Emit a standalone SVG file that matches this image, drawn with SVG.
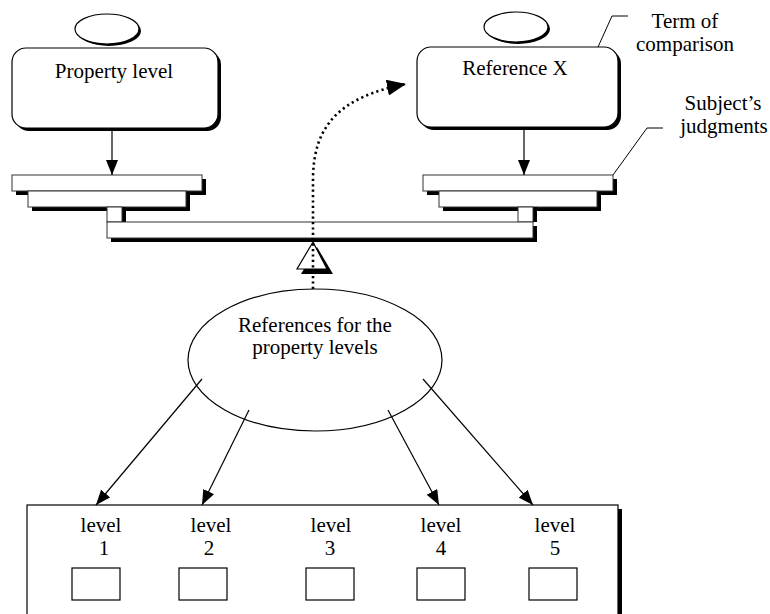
<svg xmlns="http://www.w3.org/2000/svg" width="770" height="614" viewBox="0 0 770 614">
  <style>
    .txt { font-family: "Liberation Serif", "Times New Roman", serif; font-size: 21px; fill: #000; text-anchor: middle; }
    .box { fill: #fff; stroke: #000; stroke-width: 1.2; }
    .shadow { fill: #000; stroke: none; }
    .plate { fill: #fff; stroke: #333; stroke-width: 1; }
    .edge { fill: none; stroke: #000; stroke-width: 1.2; }
    .dots { fill: none; stroke: #000; stroke-width: 2.6; stroke-dasharray: 2.2 3.2; }
    .call { fill: none; stroke: #000; stroke-width: 1; }
  </style>
  <defs>
    <marker id="arrow" markerUnits="userSpaceOnUse" markerWidth="16" markerHeight="12" refX="15" refY="6" orient="auto">
      <path d="M0,0 L15,6 L0,12 z" fill="#000"/>
    </marker>
    <marker id="arrowBig" markerUnits="userSpaceOnUse" markerWidth="20" markerHeight="16" refX="19" refY="8" orient="auto">
      <path d="M0,0 L19,8 L0,16 z" fill="#000"/>
    </marker>
  </defs>

  <rect width="770" height="614" fill="#fff"/>

  <!-- Property level box -->
  <g id="property-level">
    <rect class="shadow" x="15" y="51" width="206" height="80" rx="14"/>
    <rect class="box" x="12" y="48" width="206" height="80" rx="14"/>
    <ellipse class="shadow" cx="109" cy="31" rx="32" ry="15"/>
    <ellipse class="box" cx="107" cy="29" rx="32" ry="15"/>
    <text class="txt" x="114" y="78">Property level</text>
  </g>

  <!-- Reference X box -->
  <g id="reference-x">
    <rect class="shadow" x="420" y="50" width="201" height="80" rx="14"/>
    <rect class="box" x="417" y="47" width="201" height="80" rx="14"/>
    <ellipse class="shadow" cx="518" cy="29" rx="32" ry="15"/>
    <ellipse class="box" cx="516" cy="27" rx="32" ry="15"/>
    <text class="txt" x="515" y="75">Reference X</text>
  </g>

  <!-- Balance scale: pans, posts, beam and fulcrum -->
  <g id="scale">
    <!-- left pan -->
    <rect class="shadow" x="16" y="179" width="190" height="16"/>
    <rect class="plate" x="12" y="175" width="190" height="16"/>
    <rect class="shadow" x="32" y="195" width="158" height="16"/>
    <rect class="plate" x="28" y="191" width="158" height="16"/>
    <!-- right pan -->
    <rect class="shadow" x="427" y="179" width="190" height="16"/>
    <rect class="plate" x="423" y="175" width="190" height="16"/>
    <rect class="shadow" x="443" y="195" width="158" height="16"/>
    <rect class="plate" x="439" y="191" width="158" height="16"/>
    <!-- posts -->
    <rect class="shadow" x="111" y="207" width="15" height="15"/>
    <rect class="plate" x="107" y="207" width="15" height="15"/>
    <rect class="shadow" x="522" y="207" width="15" height="15"/>
    <rect class="plate" x="518" y="207" width="15" height="15"/>
    <!-- beam -->
    <rect class="shadow" x="111" y="226" width="426" height="16"/>
    <rect class="plate" x="107" y="222" width="426" height="16"/>
    <!-- fulcrum -->
    <polygon class="shadow" points="317,247 301,274 333,274"/>
    <polygon class="box" points="313,242 297,269 327,269"/>
  </g>

  <!-- Callout labels -->
  <g id="term-of-comparison">
    <polyline class="call" points="598,47 612,16 628,16"/>
    <text class="txt" x="685" y="28">Term of</text>
    <text class="txt" x="685" y="51">comparison</text>
  </g>
  <g id="subjects-judgments">
    <polyline class="call" points="613,175 647,128 663,128"/>
    <text class="txt" x="723" y="110">Subject’s</text>
    <text class="txt" x="724" y="133">judgments</text>
  </g>

  <!-- References ellipse -->
  <g id="references">
    <ellipse class="box" cx="315" cy="360" rx="127" ry="71"/>
    <text class="txt" x="315" y="332">References for the</text>
    <text class="txt" x="315" y="354">property levels</text>
  </g>

  <!-- Levels panel -->
  <g id="levels">
    <rect class="shadow" x="618" y="509" width="4" height="110"/>
    <rect class="box" x="27" y="505" width="591" height="115"/>
    <text class="txt" x="101" y="532">level</text>
    <text class="txt" x="104" y="555">1</text>
    <text class="txt" x="211" y="532">level</text>
    <text class="txt" x="209" y="555">2</text>
    <text class="txt" x="331" y="532">level</text>
    <text class="txt" x="330" y="555">3</text>
    <text class="txt" x="441" y="532">level</text>
    <text class="txt" x="441" y="555">4</text>
    <text class="txt" x="555" y="532">level</text>
    <text class="txt" x="555" y="555">5</text>
    <rect class="box" x="72" y="568" width="48" height="32"/>
    <rect class="box" x="179" y="568" width="48" height="32"/>
    <rect class="box" x="306" y="568" width="48" height="32"/>
    <rect class="box" x="417" y="568" width="48" height="32"/>
    <rect class="box" x="529" y="568" width="48" height="32"/>
  </g>

  <!-- Connectors -->
  <g id="connectors">
    <line class="edge" x1="112" y1="128" x2="112" y2="175" marker-end="url(#arrow)"/>
    <line class="edge" x1="524" y1="127" x2="524" y2="175" marker-end="url(#arrow)"/>
    <path class="dots" d="M313,289 L313,180 C313,125 340,97 406,84" marker-end="url(#arrowBig)"/>
    <line class="edge" x1="202" y1="379" x2="96" y2="505" marker-end="url(#arrow)"/>
    <line class="edge" x1="249" y1="410" x2="202" y2="505" marker-end="url(#arrow)"/>
    <line class="edge" x1="388" y1="410" x2="439" y2="505" marker-end="url(#arrow)"/>
    <line class="edge" x1="423" y1="379" x2="533" y2="505" marker-end="url(#arrow)"/>
  </g>
</svg>
